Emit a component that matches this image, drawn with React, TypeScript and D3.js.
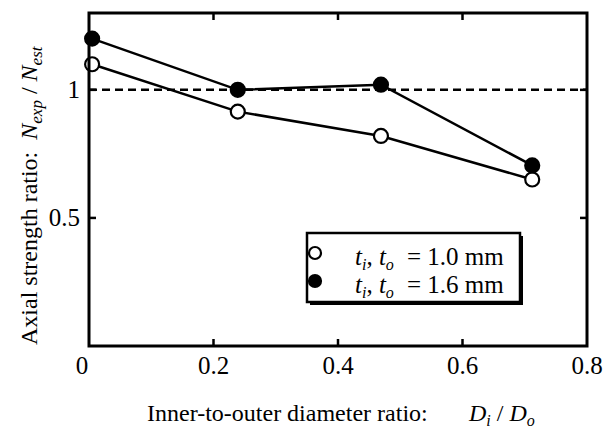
import React from "react";
import * as d3 from "d3";

const ratio = [0.005, 0.239, 0.469, 0.712];
const thin = [1.1, 0.915, 0.82, 0.65];
const thick = [1.2, 1.0, 1.02, 0.705];
const xTicks = [0, 0.2, 0.4, 0.6, 0.8];
const yTicks = [0.5, 1];
const legendLabels = ["= 1.0 mm", "= 1.6 mm"];

const W = 605;
const H = 428;
const margin = { top: 13, right: 18, bottom: 82, left: 89 };
const font = "Liberation Serif, Times New Roman, serif";

export default function App() {
  const iw = W - margin.left - margin.right;
  const ih = H - margin.top - margin.bottom;
  const x = d3.scaleLinear().domain([0, 0.8]).range([0, iw]);
  const y = d3.scaleLinear().domain([0, 1.3]).range([ih, 0]);

  const line = d3
    .line<number>()
    .x((d, i) => x(ratio[i]))
    .y((d) => y(d));

  const series = [
    { vals: thin, fill: "#fff" },
    { vals: thick, fill: "#000" },
  ];

  return (
    <svg
      width={W}
      height={H}
      style={{ position: "absolute", left: 0, top: 0, background: "#fff", fontFamily: font }}
    >
      <g transform={`translate(${margin.left},${margin.top})`}>
        {/* dashed line at ratio 1 */}
        <line
          x1={x(0)}
          x2={x(0.8)}
          y1={y(1)}
          y2={y(1)}
          stroke="#000"
          strokeWidth={2.5}
          strokeDasharray="8,5"
        />
        {series.map((s, k) => (
          <path key={k} d={line(s.vals) || ""} fill="none" stroke="#000" strokeWidth={2.5} />
        ))}
        {series.map((s, k) =>
          s.vals.map((v, i) => (
            <circle
              key={k + "-" + i}
              cx={x(ratio[i])}
              cy={y(v)}
              r={7}
              fill={s.fill}
              stroke="#000"
              strokeWidth={2.2}
            />
          ))
        )}

        {/* frame + ticks */}
        <rect x={0} y={0} width={iw} height={ih} fill="none" stroke="#000" strokeWidth={3} />
        {xTicks.slice(1, -1).map((t) => (
          <g key={"xt" + t}>
            <line x1={x(t)} x2={x(t)} y1={ih} y2={ih - 7} stroke="#000" strokeWidth={2.5} />
            <line x1={x(t)} x2={x(t)} y1={0} y2={7} stroke="#000" strokeWidth={2.5} />
          </g>
        ))}
        {yTicks.map((t) => (
          <g key={"yt" + t}>
            <line x1={0} x2={7} y1={y(t)} y2={y(t)} stroke="#000" strokeWidth={2.5} />
            <line x1={iw} x2={iw - 7} y1={y(t)} y2={y(t)} stroke="#000" strokeWidth={2.5} />
          </g>
        ))}
        {xTicks.map((t) => (
          <text
            key={"xl" + t}
            x={t === 0 ? x(t) - 7 : x(t)}
            y={ih + 28}
            textAnchor="middle"
            fontSize={25}
          >
            {String(t)}
          </text>
        ))}
        {yTicks.map((t) => (
          <text key={"yl" + t} x={-9} y={y(t) + 8} textAnchor="end" fontSize={25}>
            {String(t)}
          </text>
        ))}

        {/* legend */}
        <g transform="translate(218,220)">
          <rect x={3} y={3} width={213} height={69} fill="#000" />
          <rect x={0} y={0} width={213} height={69} fill="#fff" stroke="#000" strokeWidth={2.5} />
          {series.map((s, k) => (
            <g key={"lg" + k} transform={`translate(0,${20 + k * 28})`}>
              <circle cx={8} cy={0} r={6} fill={s.fill} stroke="#000" strokeWidth={2.2} />
              <text x={48} y={12} fontSize={25}>
                <tspan fontStyle="italic">t</tspan>
                <tspan fontStyle="italic" fontSize={16} dy={5}>i</tspan>
                <tspan dy={-5}>, </tspan>
                <tspan fontStyle="italic">t</tspan>
                <tspan fontStyle="italic" fontSize={16} dy={5}>o</tspan>
                <tspan x={100} dy={-5}>{legendLabels[k]}</tspan>
              </text>
            </g>
          ))}
        </g>
      </g>

      {/* axis titles */}
      <text x={147} y={421} fontSize={24}>
        Inner-to-outer diameter ratio:
        <tspan x={469} fontStyle="italic">D</tspan>
        <tspan fontStyle="italic" fontSize={16} dy={5}>i</tspan>
        <tspan dy={-5}> / </tspan>
        <tspan fontStyle="italic">D</tspan>
        <tspan fontStyle="italic" fontSize={16} dy={5}>o</tspan>
      </text>
      <text transform="translate(37,345) rotate(-90)" fontSize={24}>
        Axial strength ratio:{"\u00a0\u00a0"}
        <tspan fontStyle="italic">N</tspan>
        <tspan fontStyle="italic" fontSize={17} dy={5}>exp</tspan>
        <tspan dy={-5}> / </tspan>
        <tspan fontStyle="italic">N</tspan>
        <tspan fontStyle="italic" fontSize={17} dy={5}>est</tspan>
      </text>
    </svg>
  );
}
